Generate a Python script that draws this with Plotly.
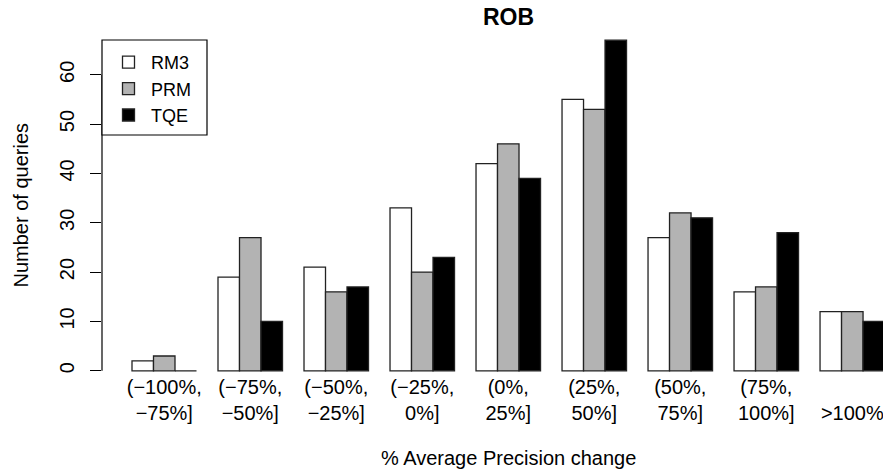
import plotly.graph_objects as go

categories = ["(−100%, −75%]", "(−75%, −50%]", "(−50%, −25%]", "(−25%, 0%]",
              "(0%, 25%]", "(25%, 50%]", "(50%, 75%]", "(75%, 100%]", ">100%"]
tick_labels = ["(−100%,<br>−75%]", "(−75%,<br>−50%]", "(−50%,<br>−25%]", "(−25%,<br>0%]",
               "(0%,<br>25%]", "(25%,<br>50%]", "(50%,<br>75%]", "(75%,<br>100%]", "<br>>100%"]
rm3 = [2, 19, 21, 33, 42, 55, 27, 16, 12]
prm = [3, 27, 16, 20, 46, 53, 32, 17, 12]
tqe = [0, 10, 17, 23, 39, 67, 31, 28, 10]
y_ticks = [0, 10, 20, 30, 40, 50, 60]

FONT = "Liberation Sans, Arial, Helvetica, sans-serif"
W, H = 883, 472
ML, MR, MT, MB = 102, 0, 27, 88
pw = W - ML - MR
ph = H - MT - MB


def px_x(p):
    return (p - ML) / pw


def px_y(p):
    return 1 - (p - MT) / ph


series = [("RM3", rm3, "#ffffff"), ("PRM", prm, "#b3b3b3"), ("TQE", tqe, "#000000")]

fig = go.Figure()
for name, vals, col in series:
    fig.add_trace(go.Bar(
        x=categories, y=vals, name=name,
        marker=dict(color=col, line=dict(color="#222222", width=1.3)),
    ))

fig.update_layout(
    width=W, height=H,
    margin=dict(l=ML, r=MR, t=MT, b=MB, pad=0),
    paper_bgcolor="white", plot_bgcolor="white",
    barmode="group", bargap=0.25, bargroupgap=0,
    font=dict(family=FONT, size=20, color="black"),
    showlegend=True,
    legend=dict(x=px_x(106), y=px_y(44), xanchor="left", yanchor="top",
                bgcolor="rgba(0,0,0,0)", borderwidth=0, itemwidth=35,
                font=dict(size=18), tracegroupgap=0),
    xaxis=dict(type="category", tickvals=categories, ticktext=tick_labels,
               range=[-0.7238, 8.357], showline=False, ticks="", showgrid=False,
               zeroline=False, ticklabelstandoff=-11),
    yaxis=dict(range=[-2.68, 69.68], tickvals=y_ticks, ticks="outside", ticklen=11,
               tickcolor="black", tickwidth=1.2, tickangle=-90, showline=False,
               showgrid=False, zeroline=False, ticklabelstandoff=8),
)

# y axis line spanning tick range (R style)
fig.add_shape(type="line", xref="paper", yref="y", x0=0, x1=0,
              y0=min(y_ticks), y1=max(y_ticks), line=dict(color="black", width=1.2))
# legend frame
fig.add_shape(type="rect", xref="paper", yref="paper", layer="above",
              x0=px_x(102), x1=px_x(207), y0=px_y(135), y1=px_y(40),
              fillcolor="white", line=dict(color="black", width=1.2))

fig.add_annotation(text="<b>ROB</b>", xref="paper", yref="paper",
                   x=px_x(508), y=px_y(17), showarrow=False,
                   font=dict(size=23), xanchor="center", yanchor="middle")
fig.add_annotation(text="Number of queries", xref="paper", yref="paper",
                   x=px_x(20), y=0.5, showarrow=False, textangle=-90,
                   xanchor="center", yanchor="middle", font=dict(size=20))
fig.add_annotation(text="% Average Precision change", xref="paper", yref="paper",
                   x=px_x(508), y=px_y(458), showarrow=False,
                   xanchor="center", yanchor="middle", font=dict(size=20))

fig.write_html("out.html", config={"displayModeBar": False},
               post_script="document.body.style.margin='0px';document.body.style.overflow='hidden';")
